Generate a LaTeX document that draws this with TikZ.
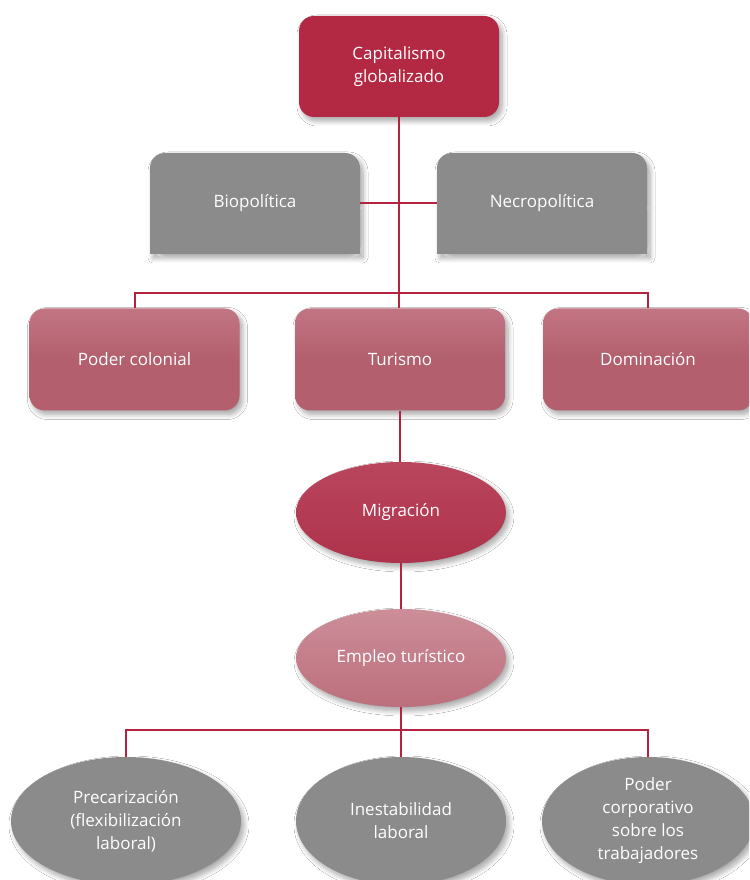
\documentclass[tikz,border=0pt]{standalone}
\usepackage{fontspec}
\setmainfont{Open Sans}
\usetikzlibrary{shapes.geometric,shadows.blur}
\definecolor{crimson}{HTML}{B32843}
\definecolor{linecol}{HTML}{B5223F}
\definecolor{graycol}{HTML}{8B8B8B}
\definecolor{rosecol}{HTML}{B35F6D}
\definecolor{roselight}{HTML}{C27583}
\definecolor{migcol}{HTML}{AE324B}
\definecolor{miglight}{HTML}{B9465D}
\definecolor{empcol}{HTML}{BC6F7C}
\definecolor{emplight}{HTML}{CC8E99}
\begin{document}
\begin{tikzpicture}[x=1pt,y=1pt,
  every node/.style={text=white, font=\fontsize{17}{23}\selectfont, align=center, inner sep=0pt},
  shad/.style={blur shadow={shadow xshift=3pt, shadow yshift=-4pt, shadow blur radius=5pt, shadow blur steps=8, shadow opacity=35}},
  conn/.style={draw=linecol, line width=2pt},
  capbox/.style={rectangle, rounded corners=15pt, fill=crimson, minimum width=200pt, minimum height=101pt, shad},
  graybox/.style={rectangle, minimum width=210pt, minimum height=101pt},
  grayfill/.style={fill=graycol, shad},
  rosebox/.style={rectangle, rounded corners=15pt, top color=roselight, bottom color=rosecol, middle color=rosecol, minimum width=210pt, minimum height=102pt, shad},
  migell/.style={ellipse, top color=miglight, bottom color=migcol, minimum width=210pt, minimum height=101pt, shad},
  empell/.style={ellipse, top color=emplight, bottom color=empcol, minimum width=210pt, minimum height=98pt, shad},
  grayell/.style={ellipse, fill=graycol, minimum height=128pt, shad}]
\useasboundingbox (0,0) rectangle (749,880);
\clip (0,0) rectangle (749,880);
\fill[white] (0,0) rectangle (749,880);

\node[capbox] (capital) at (399,813.5) {Capitalismo\\globalizado};

\path[grayfill] [rounded corners=15pt] (150,626) rectangle (360,727)
  [sharp corners] (150,626) rectangle (360,676);
\path[grayfill] [rounded corners=15pt] (437,626) rectangle (647,727)
  [sharp corners] (437,626) rectangle (647,676);
\node[graybox] (bio) at (255,676.5) {Biopolítica};
\node[graybox] (necro) at (542,676.5) {Necropolítica};

\node[rosebox] (colonial) at (134.5,520.5) {Poder colonial};
\node[rosebox] (turismo) at (400,520.5) {Turismo};
\node[rosebox] (domin) at (648,520.5) {Dominación};

\node[migell] (migr) at (401,367.5) {Migración};
\node[empell] (empleo) at (401,222) {Empleo turístico};

\node[grayell, minimum width=230pt] (precar) at (126,59) {Precarización\\(flexibilización\\laboral)};
\node[grayell, minimum width=210pt] (inest) at (401,59) {Inestabilidad\\laboral};
\node[grayell, minimum width=212pt] (poder) at (648,59) {Poder\\corporativo\\sobre los\\trabajadores};

\coordinate (bar1) at (400,587);
\coordinate (bar2) at (401,150);

\draw[conn] (capital.south) -- (capital.south |- turismo.north);
\draw[conn] (bio.east) -- (necro.west);
\draw[conn] (colonial.north) |- (bar1) -| (domin.north);
\draw[conn] (turismo.south) -- (turismo.south |- migr.north);
\draw[conn] (migr.south) -- (empleo.north);
\draw[conn] (empleo.south) -- (inest.north);
\draw[conn] (precar.north) |- (bar2) -| (poder.north);
\end{tikzpicture}
\end{document}
